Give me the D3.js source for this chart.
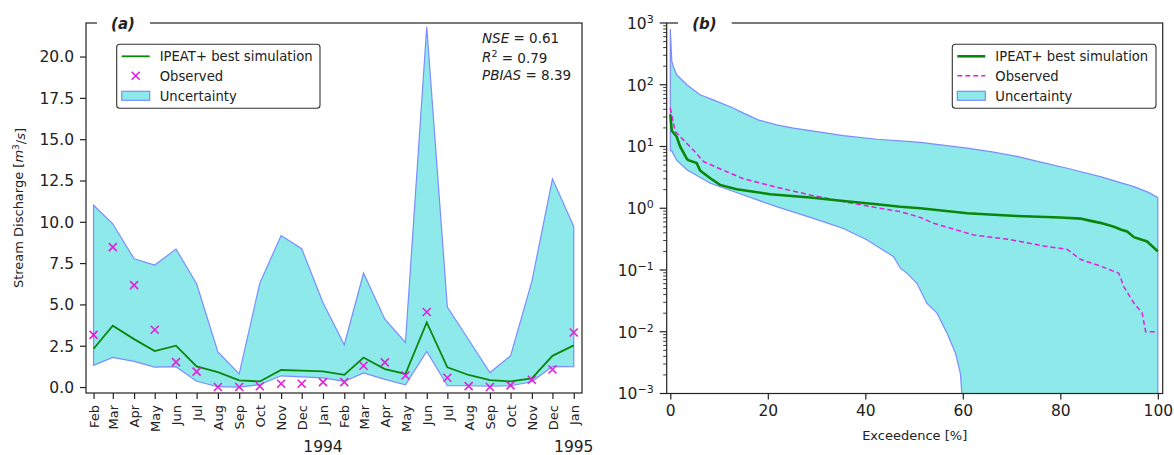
<!DOCTYPE html>
<html><head><meta charset="utf-8">
<script src="https://cdn.jsdelivr.net/npm/d3@7"></script>
<style>
body{margin:0;background:#fff;}
text{font-family:"DejaVu Sans",sans-serif;fill:#222;}
</style></head>
<body><svg id="c" width="1174" height="455"></svg>
<script>
// ---------- Data: panel (a) monthly series, Feb 1993 – Jan 1995 ----------
const months = ["1993-02","1993-03","1993-04","1993-05","1993-06","1993-07","1993-08","1993-09","1993-10","1993-11","1993-12",
  "1994-01","1994-02","1994-03","1994-04","1994-05","1994-06","1994-07","1994-08","1994-09","1994-10","1994-11","1994-12","1995-01"];
const simMonthly = [2.32,3.71,2.9,2.18,2.5,1.25,0.9,0.4,0.34,1.03,0.99,0.95,0.74,1.79,1.09,0.79,3.91,1.19,0.73,0.42,0.34,0.52,1.89,2.52];
const obsMonthly = [3.16,8.47,6.17,3.47,1.51,0.93,0.0,0.0,0.05,0.2,0.2,0.3,0.3,1.29,1.49,0.7,4.54,0.56,0.06,0.0,0.1,0.44,1.06,3.3];
const lowMonthly = [1.31,1.79,1.55,1.21,1.23,0.35,0.02,0.0,0.14,0.68,0.62,0.56,0.34,0.85,0.46,0.14,2.16,0.08,0.08,0.05,0.08,0.32,1.25,1.23];
const upMonthly  = [11.0,9.88,7.76,7.38,8.35,6.25,2.12,0.8,6.29,9.17,8.37,5.1,2.56,6.9,4.11,2.7,21.8,4.84,2.86,0.88,1.89,6.39,12.6,9.72];
const yTicksA = [0,2.5,5,7.5,10,12.5,15,17.5,20];
const yearLabels = [["1994-01","1994"],["1995-01","1995"]];
const statsLines = [["NSE","","0.61"],["R","2","0.79"],["PBIAS","","8.39"]];

// ---------- Data: panel (b) flow duration curves ----------
const simPct = [0,0.3,1.3,2,3.4,3.7,5.4,6.1,8.2,10.2,13.6,20.5,28.7,35.5,42.4,47.2,51.3,60.9,71.1,80,84.1,86,88.2,91,92.5,93.7,95.1,97.8,100];
const simVal = [33,18,14.5,10,6.3,6.0,5.4,4.1,3.06,2.39,2.03,1.69,1.49,1.31,1.16,1.06,1.0,0.83,0.75,0.71,0.68,0.63,0.58,0.5,0.45,0.42,0.34,0.29,0.2];
const obsPct = [0,1,2.7,4.7,6.8,11.6,15,21.8,28.7,35.5,42.4,47.2,51.3,54,62.2,69.8,76.6,81.4,84.1,88.2,92,93,95.1,96.8,97.5,100];
const obsVal = [42,17.5,12.8,8.8,5.7,3.9,3.0,2.19,1.64,1.28,1.02,0.88,0.71,0.57,0.37,0.31,0.245,0.216,0.149,0.116,0.0885,0.054,0.029,0.02,0.01,0.01];
const upPct = [0,0.3,0.6,1.3,3.4,6.1,8.8,12.9,15,18,21.8,25,28.7,35.5,42.4,47.2,51.3,55,60.9,66,71.1,76,81.4,88.2,95.1,98.2,99.9,100];
const upVal = [800,240,197,145,100,69,57,42,34.7,27,22.4,20,18.1,15,13.1,12.3,11.7,10.7,9.4,8.2,6.9,5.6,4.45,3.25,2.24,1.79,1.5,1.4];
const lowPct = [0,0.3,1.3,3.4,8.2,15,21.8,28.7,32.1,35.5,40.3,45.8,47.2,48.5,50.6,52.6,54.7,56.8,58.5,59.5,59.8,60,100];
const lowVal = [8.5,8.5,6.0,4.2,2.54,1.64,1.06,0.71,0.58,0.47,0.31,0.164,0.107,0.089,0.061,0.029,0.02,0.0094,0.0045,0.0021,0.001,0,0];
const xTicksB = [0,20,40,60,80,100];
const yTicksB = [-3,-2,-1,0,1,2,3];

const legendItems = ["IPEAT+ best simulation","Observed","Uncertainty"];

// ---------- Styles ----------
const FILL = "#8eeaea", EDGE = "#7b8cff", GREEN = "#0a870a", MAG = "#e020d8", AX = "#222";

const svg = d3.select("#c");
const parse = d3.utcParse("%Y-%m");
const dates = months.map(parse);

// ================= Panel (a) =================
const A = {l:86, r:582, t:23, b:393};
const xA = d3.scaleUtc()
  .domain([d3.utcDay.offset(dates[0], -10.5), d3.utcDay.offset(dates[dates.length-1], 12.5)])
  .range([A.l, A.r]);
const yA = d3.scaleLinear().domain([-0.36, 22.03]).range([A.b, A.t]);
const gA = svg.append("g");

const bandA = dates.map((d,i)=>({d, lo:lowMonthly[i], hi:upMonthly[i]}));
gA.append("path").datum(bandA)
  .attr("d", d3.area().x(p=>xA(p.d)).y0(p=>yA(p.lo)).y1(p=>yA(p.hi)))
  .attr("fill", FILL).attr("stroke", EDGE).attr("stroke-width", 1.2);
gA.append("path").datum(dates.map((d,i)=>[d, simMonthly[i]]))
  .attr("d", d3.line().x(p=>xA(p[0])).y(p=>yA(p[1])))
  .attr("fill","none").attr("stroke", GREEN).attr("stroke-width", 1.8);
const ms = 4;
gA.selectAll(".obs").data(dates.map((d,i)=>[d, obsMonthly[i]])).join("path")
  .attr("d", p=>{const x=xA(p[0]), y=yA(p[1]); return `M${x-ms},${y-ms}L${x+ms},${y+ms}M${x-ms},${y+ms}L${x+ms},${y-ms}`;})
  .attr("stroke", MAG).attr("stroke-width", 1.6).attr("fill","none");

// frame
gA.append("rect").attr("x",A.l).attr("y",A.t).attr("width",A.r-A.l).attr("height",A.b-A.t)
  .attr("fill","none").attr("stroke",AX).attr("stroke-width",1.2);
// y axis
const yAxA = gA.append("g").attr("transform",`translate(${A.l},0)`)
  .call(d3.axisLeft(yA).tickValues(yTicksA).tickFormat(d3.format(".1f")).tickSize(6).tickPadding(6));
yAxA.select(".domain").remove();
yAxA.selectAll("line").attr("stroke",AX).attr("stroke-width",1.2);
yAxA.selectAll("text").style("font-size","15.5px").attr("fill",AX).attr("dy","0.35em");
// x axis
const xAxA = gA.append("g").attr("transform",`translate(0,${A.b})`)
  .call(d3.axisBottom(xA).tickValues(dates).tickFormat(d3.utcFormat("%b")).tickSize(6).tickPadding(4));
xAxA.select(".domain").remove();
xAxA.selectAll("line").attr("stroke",AX).attr("stroke-width",1.2);
xAxA.selectAll("text").style("font-size","13px").attr("fill",AX)
  .attr("transform","rotate(-90)").attr("text-anchor","end").attr("x",-12).attr("y",0).attr("dy","0.36em");
gA.selectAll(".yr").data(yearLabels).join("text")
  .attr("x",p=>xA(parse(p[0]))).attr("y",452).attr("text-anchor","middle")
  .style("font-size","15.5px").text(p=>p[1]);
// y label
const yl = gA.append("text").attr("transform",`translate(23,${(A.t+A.b)/2}) rotate(-90)`)
  .attr("text-anchor","middle").style("font-size","13px");
yl.append("tspan").text("Stream Discharge [");
yl.append("tspan").style("font-style","italic").text("m");
yl.append("tspan").attr("dy","-0.45em").style("font-size","9px").text("3");
yl.append("tspan").attr("dy","0.45em").text("/");
yl.append("tspan").style("font-style","italic").text("s");
yl.append("tspan").text("]");
// title
gA.append("rect").attr("x",97).attr("y",14).attr("width",53).attr("height",18).attr("fill","#fff");
gA.append("text").attr("x",123).attr("y",28.5).attr("text-anchor","middle")
  .style("font-size","15px").style("font-weight","bold").style("font-style","italic").text("(a)");
// stats
statsLines.forEach((s,i)=>{
  const t = gA.append("text").attr("x",482).attr("y",43+i*18.5).style("font-size","13.5px");
  t.append("tspan").style("font-style","italic").text(s[0]);
  if (s[1]) { t.append("tspan").attr("dy","-0.45em").style("font-size","9.5px").text(s[1]); t.append("tspan").attr("dy","0.45em").text(" =  "+s[2]); }
  else t.append("tspan").text(" =  "+s[2]);
});

// legend helper
function legend(g, x0, y0, w, dashedObs, lw){
  g.append("rect").attr("x",x0).attr("y",y0).attr("width",w).attr("height",64).attr("rx",3)
    .attr("fill","#fff").attr("fill-opacity",0.85).attr("stroke","#333").attr("stroke-width",1.1);
  const hx = x0+5, hw = 28, tx = x0+43;
  const ys = [y0+12, y0+31.5, y0+51.5];
  g.append("line").attr("x1",hx).attr("x2",hx+hw).attr("y1",ys[0]).attr("y2",ys[0])
    .attr("stroke",GREEN).attr("stroke-width",lw);
  if (dashedObs) {
    g.append("line").attr("x1",hx).attr("x2",hx+hw).attr("y1",ys[1]).attr("y2",ys[1])
      .attr("stroke",MAG).attr("stroke-width",1.5).attr("stroke-dasharray","5,3");
  } else {
    const cx = hx+hw/2, cy = ys[1];
    g.append("path").attr("d",`M${cx-ms},${cy-ms}L${cx+ms},${cy+ms}M${cx-ms},${cy+ms}L${cx+ms},${cy-ms}`)
      .attr("stroke",MAG).attr("stroke-width",1.6);
  }
  g.append("rect").attr("x",hx).attr("y",ys[2]-4.5).attr("width",hw).attr("height",9)
    .attr("fill",FILL).attr("stroke",EDGE).attr("stroke-width",1.2);
  legendItems.forEach((s,i)=>g.append("text").attr("x",tx).attr("y",ys[i]).attr("dy","0.36em")
    .style("font-size","13.2px").text(s));
}
legend(gA, 116.7, 44.3, 203.3, false, 1.8);

// ================= Panel (b) =================
const B = {l:666.7, r:1162.7, t:23, b:393.5};
const xB = d3.scaleLinear().domain([-0.74, 101]).range([B.l, B.r]);
const yB = d3.scaleLog().domain([1e-3, 1e3]).range([B.b, B.t]);
const yv = v => v > 1e-3 ? yB(v) : B.b;
const gB = svg.append("g");
svg.append("clipPath").attr("id","clipB").append("rect")
  .attr("x",B.l).attr("y",B.t).attr("width",B.r-B.l).attr("height",B.b-B.t);
const plotB = gB.append("g").attr("clip-path","url(#clipB)");

const upPts = upPct.map((p,i)=>[xB(p), yv(upVal[i])]);
const lowPts = lowPct.map((p,i)=>[xB(p), yv(lowVal[i])]).reverse();
plotB.append("path").attr("d", d3.line()(upPts.concat(lowPts)) + "Z")
  .attr("fill",FILL).attr("stroke",EDGE).attr("stroke-width",1.2);
plotB.append("path").datum(obsPct.map((p,i)=>[p,obsVal[i]]))
  .attr("d", d3.line().x(p=>xB(p[0])).y(p=>yv(p[1])))
  .attr("fill","none").attr("stroke",MAG).attr("stroke-width",1.5).attr("stroke-dasharray","5,3");
plotB.append("path").datum(simPct.map((p,i)=>[p,simVal[i]]))
  .attr("d", d3.line().x(p=>xB(p[0])).y(p=>yv(p[1])))
  .attr("fill","none").attr("stroke",GREEN).attr("stroke-width",2.6);

gB.append("rect").attr("x",B.l).attr("y",B.t).attr("width",B.r-B.l).attr("height",B.b-B.t)
  .attr("fill","none").attr("stroke",AX).attr("stroke-width",1.2);
// x axis
const xAxB = gB.append("g").attr("transform",`translate(0,${B.b})`)
  .call(d3.axisBottom(xB).tickValues(xTicksB).tickSize(6).tickPadding(5));
xAxB.select(".domain").remove();
xAxB.selectAll("line").attr("stroke",AX).attr("stroke-width",1.2);
xAxB.selectAll("text").style("font-size","15.5px").attr("fill",AX);
gB.append("text").attr("x",(B.l+B.r)/2).attr("y",440).attr("text-anchor","middle")
  .style("font-size","13px").text("Exceedence [%]");
// y axis (log) major + minor
const minor = [];
for (let e=-3; e<3; e++) for (let k=2;k<10;k++) minor.push(k*Math.pow(10,e));
const yAxB = gB.append("g").attr("transform",`translate(${B.l},0)`);
yAxB.selectAll(".mn").data(minor).join("line")
  .attr("x1",-3.5).attr("x2",0).attr("y1",d=>yB(d)).attr("y2",d=>yB(d))
  .attr("stroke",AX).attr("stroke-width",0.9);
yAxB.selectAll(".mj").data(yTicksB).join("line")
  .attr("x1",-7).attr("x2",0).attr("y1",e=>yB(Math.pow(10,e))).attr("y2",e=>yB(Math.pow(10,e)))
  .attr("stroke",AX).attr("stroke-width",1.2);
yTicksB.forEach(e=>{
  const t = yAxB.append("text").attr("x",-13).attr("y",yB(Math.pow(10,e))).attr("dy","0.38em")
    .attr("text-anchor","end").style("font-size","15.5px");
  t.append("tspan").text("10");
  t.append("tspan").attr("dy","-0.55em").style("font-size","11px").text(e<0 ? "\u2212"+(-e) : String(e));
});
// title
gB.append("rect").attr("x",678).attr("y",14).attr("width",53.7).attr("height",18).attr("fill","#fff");
gB.append("text").attr("x",704.5).attr("y",28.5).attr("text-anchor","middle")
  .style("font-size","15px").style("font-weight","bold").style("font-style","italic").text("(b)");
legend(gB, 952.3, 44.3, 203.7, true, 2.6);
</script></body></html>
